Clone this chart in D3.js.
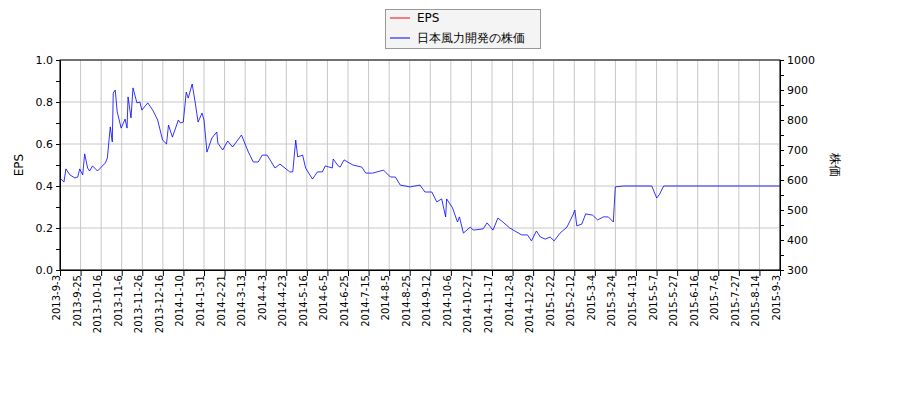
<!DOCTYPE html>
<html><head><meta charset="utf-8">
<script src="https://cdn.jsdelivr.net/npm/d3@7"></script>
<style>body{margin:0;background:#fff}svg text{font-family:"DejaVu Sans",sans-serif}</style>
</head><body><svg id="c" width="900" height="400"></svg>
<script>
const startDate = "2013-09-03", endDate = "2015-09-03";
const tickLabels = ["2013-9-3","2013-9-25","2013-10-16","2013-11-6","2013-11-26","2013-12-16","2014-1-10","2014-1-31","2014-2-21","2014-3-13","2014-4-3","2014-4-23","2014-5-16","2014-6-5","2014-6-25","2014-7-15","2014-8-5","2014-8-25","2014-9-12","2014-10-6","2014-10-27","2014-11-17","2014-12-8","2014-12-29","2015-1-22","2015-2-12","2015-3-4","2015-3-24","2015-4-13","2015-5-7","2015-5-27","2015-6-16","2015-7-6","2015-7-27","2015-8-14","2015-9-3"];
const priceDays = [0,4,6,10,15,18,20,23,25,28,30,33,38,41,46,48,51,53,54,56,58,62,66,68,69,72,74,78,81,83,89,94,99,104,108,110,114,120,122,125,128,130,134,137,140,144,146,149,154,159,160,165,170,175,184,191,196,201,205,210,218,223,233,236,239,241,246,249,256,261,266,269,276,277,282,284,288,297,306,310,317,328,335,340,345,355,365,370,377,382,387,391,392,398,403,405,409,416,419,429,433,439,444,449,456,468,474,478,483,487,492,497,501,507,514,520,522,524,529,533,540,545,551,556,561,563,571,600,605,608,612,619,730];
const priceValues = [607,593,637,617,607,610,637,617,687,640,630,647,630,640,657,673,777,727,890,900,827,773,803,773,877,807,907,857,860,833,857,833,800,733,720,783,743,800,790,793,893,873,920,860,793,823,800,693,740,760,723,700,730,710,750,693,660,660,683,683,640,653,627,627,733,677,683,640,603,627,627,647,640,670,647,643,667,650,643,623,623,633,610,610,583,577,583,560,560,527,537,477,537,507,460,477,423,443,433,437,457,433,473,460,440,417,417,397,430,410,403,410,397,423,443,483,500,447,453,487,483,467,477,477,460,577,580,580,540,553,580,580,580];
const epsValues = [];
const leftTicks = [0,0.2,0.4,0.6,0.8,1.0];

const svg = d3.select("#c");
const L=60,R=780,T=60,B=270;
const t0=d3.timeParse("%Y-%m-%d")(startDate), t1=d3.timeParse("%Y-%m-%d")(endDate);
const x=d3.scaleTime().domain([t0,t1]).range([L,R]);
const yl=d3.scaleLinear().domain([0,1]).range([B,T]);
const yr=d3.scaleLinear().domain([300,1000]).range([B,T]);
const n=tickLabels.length;
const xt=tickLabels.map((s,i)=>new Date(+t0+(t1-t0)*i/(n-1)));
const g=svg.append("g");
g.selectAll(".vg").data(xt).join("line").attr("x1",d=>x(d)).attr("x2",d=>x(d)).attr("y1",T).attr("y2",B).attr("stroke","#c8c8c8");
g.selectAll(".hg").data(leftTicks).join("line").attr("x1",L).attr("x2",R).attr("y1",d=>yl(d)).attr("y2",d=>yl(d)).attr("stroke","#c8c8c8");
svg.append("rect").attr("x",L).attr("y",T).attr("width",R-L).attr("height",B-T).attr("fill","none").attr("stroke","#000");
const ax=svg.append("g").attr("transform",`translate(0,${B})`).call(d3.axisBottom(x).tickValues(xt).tickFormat((d,i)=>tickLabels[i]).tickSizeOuter(0));
ax.selectAll("text").attr("transform","rotate(-90)").attr("text-anchor","end").attr("x",-5).attr("y",-4).attr("dy","0.35em").attr("font-size",10);
svg.append("g").attr("transform",`translate(${L},0)`).call(d3.axisLeft(yl).tickValues(d3.range(0,1.01,0.1)).tickSize(4).tickFormat(d=>Math.round(d*10)%2===0?d3.format(".1f")(d):"").tickSizeOuter(0)).selectAll("text").attr("font-size",11);
svg.append("g").attr("transform",`translate(${R},0)`).call(d3.axisRight(yr).tickValues(d3.range(300,1001,50)).tickSize(4).tickFormat(d=>d%100===0?d:"").tickSizeOuter(0)).selectAll("text").attr("font-size",11);
svg.selectAll(".domain").attr("stroke","#000");
const line=d3.line().x((d,i)=>x(d3.timeDay.offset(t0,priceDays[i]))).y(d=>yr(d));
svg.append("path").datum(priceValues).attr("d",line).attr("fill","none").attr("stroke","#0000ff").attr("stroke-width",0.8);
svg.append("text").attr("transform","translate(23,165) rotate(-90)").attr("text-anchor","middle").attr("font-size",12).text("EPS");
svg.append("text").attr("transform","translate(831,165) rotate(90)").attr("text-anchor","middle").attr("font-size",12).attr("font-family","Noto Sans CJK JP").text("株価");
const lg=svg.append("g");
lg.append("rect").attr("x",385.5).attr("y",9.5).attr("width",155).attr("height",39).attr("fill","#f4f4f4").attr("stroke","#999");
lg.append("line").attr("x1",390).attr("x2",410).attr("y1",18).attr("y2",18).attr("stroke","#ff0000");
lg.append("line").attr("x1",390).attr("x2",410).attr("y1",38).attr("y2",38).attr("stroke","#0000ff");
lg.append("text").attr("x",417).attr("y",22).attr("font-size",12).text("EPS");
lg.append("text").attr("x",417).attr("y",42).attr("font-size",12).attr("font-family","Noto Sans CJK JP").text("日本風力開発の株価");
</script></body></html>
